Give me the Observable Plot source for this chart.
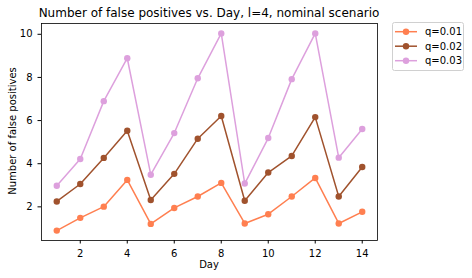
<!DOCTYPE html>
<html><head><meta charset="utf-8">
<script src="https://cdn.jsdelivr.net/npm/d3@7"></script>
<script src="https://cdn.jsdelivr.net/npm/@observablehq/plot@0.6"></script>
<style>
body{margin:0;background:#fff;}
svg{font-family:"DejaVu Sans",sans-serif;}
</style></head><body>
<div id="chart"></div>
<script>
const days = [1,2,3,4,5,6,7,8,9,10,11,12,13,14];
const seriesNames = ["q=0.01","q=0.02","q=0.03"];
const seriesColors = ["#ff7f50","#a0522d","#dda0dd"];
const q001 = [0.90,1.49,2.01,3.25,1.21,1.95,2.48,3.11,1.23,1.66,2.48,3.34,1.23,1.77];
const q002 = [2.25,3.06,4.27,5.53,2.32,3.53,5.16,6.21,2.28,3.59,4.36,6.16,2.48,3.85];
const q003 = [2.98,4.22,6.90,8.89,3.49,5.42,7.96,10.04,3.08,5.19,7.92,10.04,4.28,5.61];
const xTicks = [2,4,6,8,10,12,14];
const yTicks = [2,4,6,8,10];
const title = "Number of false positives vs. Day, l=4, nominal scenario";

const allSeries = [q001,q002,q003];
const rows = [];
allSeries.forEach((vals,si)=>vals.forEach((v,i)=>rows.push({day:days[i],value:v,series:seriesNames[si]})));

const chart = Plot.plot({
  width:472, height:278,
  marginLeft:41, marginRight:95, marginTop:23, marginBottom:38,
  style:{fontFamily:"DejaVu Sans, sans-serif", fontSize:"10px", color:"#000", background:"#fff"},
  x:{domain:[0.35,14.65], ticks:xTicks, tickSize:3.5, tickPadding:3, label:null},
  y:{domain:[0.44,10.50], ticks:yTicks, tickSize:3.5, tickPadding:3, label:null},
  color:{domain:seriesNames, range:seriesColors},
  marks:[
    Plot.line(rows,{x:"day",y:"value",stroke:"series",strokeWidth:1.5}),
    Plot.dot(rows,{x:"day",y:"value",fill:"series",r:3.2,stroke:"none"}),
    Plot.frame({stroke:"#000",strokeWidth:0.8}),
    Plot.axisX({ticks:xTicks,tickSize:3.5,fontSize:10,label:null}),
    Plot.axisY({ticks:yTicks,tickSize:3.5,fontSize:10,label:null})
  ]
});
document.getElementById("chart").appendChild(chart);

const svg = d3.select(chart);
// title and axis labels
svg.append("text").attr("x",209).attr("y",17).attr("text-anchor","middle")
  .attr("font-size",12).attr("fill","#000").text(title);
svg.append("text").attr("x",209).attr("y",268).attr("text-anchor","middle")
  .attr("font-size",10).attr("fill","#000").text("Day");
svg.append("text").attr("transform","translate(15.5,131) rotate(-90)").attr("text-anchor","middle")
  .attr("font-size",10).attr("fill","#000").text("Number of false positives");
// legend
const lg = svg.append("g");
lg.append("rect").attr("x",392.5).attr("y",22.5).attr("width",71).attr("height",48)
  .attr("fill","#fff").attr("stroke","#d0d0d0").attr("rx",2);
seriesNames.forEach((n,i)=>{
  const y = 31.7 + i*14.5;
  lg.append("line").attr("x1",395).attr("x2",417).attr("y1",y).attr("y2",y)
    .attr("stroke",seriesColors[i]).attr("stroke-width",1.5);
  lg.append("circle").attr("cx",406).attr("cy",y).attr("r",3.2).attr("fill",seriesColors[i]);
  lg.append("text").attr("x",425).attr("y",y+3.5).attr("text-anchor","start")
    .attr("font-size",10).attr("fill","#000").text(n);
});
</script></body></html>
